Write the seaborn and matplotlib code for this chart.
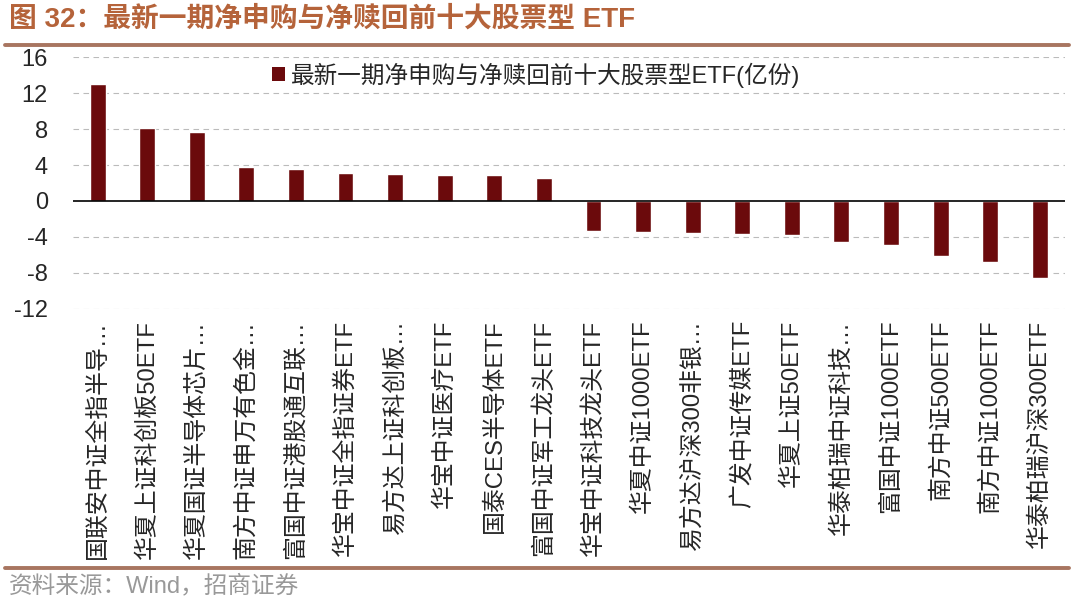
"""
最新一期净申购与净赎回前十大股票型 ETF
Bar chart recreation with seaborn.
"""

import matplotlib
matplotlib.use("Agg")
import matplotlib.pyplot as plt
import seaborn as sns
import pandas as pd
from matplotlib.lines import Line2D
from matplotlib.patches import Patch

# Data (亿份)
FUNDS = [
    "国联安中证全指半导…", "华夏上证科创板50ETF", "华夏国证半导体芯片…",
    "南方中证申万有色金…", "富国中证港股通互联…", "华宝中证全指证券ETF",
    "易方达上证科创板…", "华宝中证医疗ETF", "国泰CES半导体ETF",
    "富国中证军工龙头ETF", "华宝中证科技龙头ETF", "华夏中证1000ETF",
    "易方达沪深300非银…", "广发中证传媒ETF", "华夏上证50ETF",
    "华泰柏瑞中证科技…", "富国中证1000ETF", "南方中证500ETF",
    "南方中证1000ETF", "华泰柏瑞沪深300ETF",
]
NET_FLOW = [
    12.97, 8.17, 7.72, 3.77, 3.58, 3.10, 3.03, 2.88, 2.85, 2.51,
    -3.36, -3.44, -3.59, -3.66, -3.74, -4.52, -4.90, -6.09, -6.84, -8.52,
]
Y_TICKS = [-12, -8, -4, 0, 4, 8, 12, 16]

SERIES_NAME = "最新一期净申购与净赎回前十大股票型ETF(亿份)"
TITLE = "图 32：最新一期净申购与净赎回前十大股票型 ETF"
SOURCE = "资料来源：Wind，招商证券"

BAR_COLOR = "#6B0A0C"
TITLE_COLOR = "#B5633A"
RULE_COLOR = "#A87560"

sns.set_style("white")
plt.rcParams["font.family"] = ["Liberation Sans", "Noto Sans CJK SC", "DejaVu Sans"]
plt.rcParams["axes.unicode_minus"] = False

df = pd.DataFrame({"fund": FUNDS, "flow": NET_FLOW})

fig = plt.figure(figsize=(10.71, 6.09), dpi=100)
ax = fig.add_axes([0.068, 0.493, 0.926, 0.413])

sns.barplot(data=df, x="fund", y="flow", color=BAR_COLOR, saturation=1,
            width=0.32, ax=ax, zorder=3)

ax.set_ylim(-12, 16)
ax.set_yticks(Y_TICKS)
ax.set_yticklabels([str(t) for t in Y_TICKS], fontsize=17)
ax.set_xlabel("")
ax.set_ylabel("")
ax.set_xlim(-0.5, len(FUNDS) - 0.5)

# grid + zero line
for t in Y_TICKS:
    if t != 0:
        ax.axhline(t, color="#BBBBBB", lw=0.8, ls=(0, (5, 4)), zorder=1)
ax.axhline(0, color="black", lw=1.2, zorder=4)

for s in ax.spines.values():
    s.set_visible(False)
ax.tick_params(axis="both", length=0)
ax.tick_params(axis="y", pad=18)
ax.tick_params(axis="x", pad=8)

ax.set_xticks(range(len(FUNDS)))
ax.set_xticklabels(FUNDS, rotation=90, ha="center", va="top", fontsize=17.2)

# legend
handle = Patch(facecolor=BAR_COLOR, edgecolor="none")
fig.legend([handle], [SERIES_NAME], loc="center left",
           bbox_to_anchor=(0.245, 0.877), frameon=False, fontsize=17,
           handlelength=0.55, handleheight=0.55, handletextpad=0.25,
           borderaxespad=0)

# title, rules and source
fig.text(0.008, 0.968, TITLE, fontsize=20, fontweight="bold",
         color=TITLE_COLOR, va="center", ha="left")
fig.add_artist(Line2D([0.005, 0.998], [0.926, 0.926], transform=fig.transFigure,
                      color=RULE_COLOR, lw=2.8))
fig.add_artist(Line2D([0.005, 0.998], [0.067, 0.067], transform=fig.transFigure,
                      color=RULE_COLOR, lw=2.8))
fig.text(0.008, 0.038, SOURCE, fontsize=17, color="#999999",
         va="center", ha="left")

fig.savefig("out.png", dpi=100)
